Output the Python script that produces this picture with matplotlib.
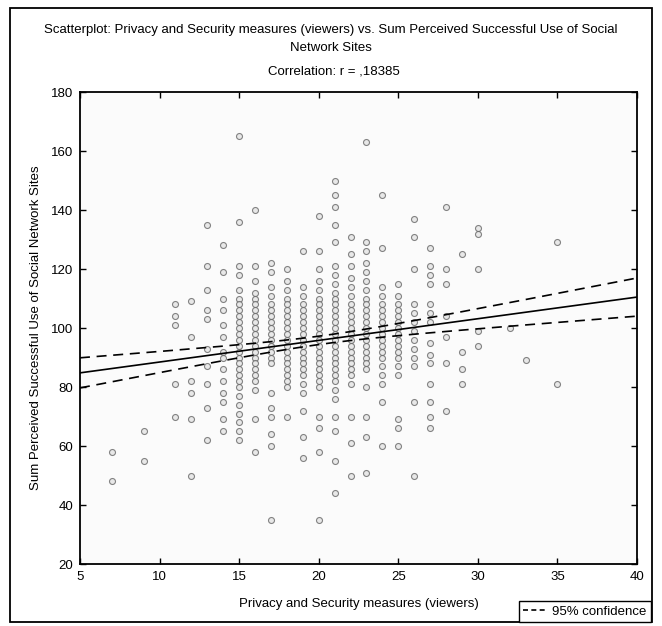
import numpy as np
import matplotlib
matplotlib.use("Agg")
import matplotlib.pyplot as plt
from matplotlib.lines import Line2D
from matplotlib.patches import Rectangle

plt.rcParams['font.family'] = ['Liberation Sans', 'DejaVu Sans']
plt.rcParams['font.size'] = 9.5

# Privacy/security score (x) and the SNS-use sums observed at each score
col_x = [7, 9, 11, 12, 13, 14, 15, 16, 17, 18, 19, 20, 21, 22, 23, 24, 25,
         26, 27, 28, 29, 30, 32, 33, 35]
col_y = [
    [58, 48],
    [65, 55],
    [108, 104, 101, 81, 70],
    [109, 97, 82, 78, 69, 50],
    [135, 121, 113, 106, 103, 93, 87, 81, 73, 62],
    [128, 119, 110, 106, 101, 97, 92, 90, 86, 82, 78, 75, 69, 65],
    [165, 136, 121, 118, 113, 110, 108, 106, 104, 102, 100, 98, 96, 94, 92,
     90, 88, 86, 84, 82, 80, 77, 74, 71, 68, 65, 62],
    [140, 121, 116, 112, 110, 108, 106, 104, 102, 100, 98, 96, 94, 92, 90,
     88, 86, 84, 82, 79, 69, 58],
    [122, 119, 114, 111, 108, 106, 104, 102, 100, 98, 96, 94, 92, 90, 88,
     78, 73, 70, 64, 60, 35],
    [120, 116, 113, 110, 108, 106, 104, 102, 100, 98, 96, 94, 92, 90, 88,
     86, 84, 82, 80, 70],
    [126, 114, 111, 108, 106, 104, 102, 100, 98, 96, 94, 92, 90, 88, 86, 84,
     81, 78, 72, 63, 56],
    [138, 126, 120, 116, 113, 110, 108, 106, 104, 102, 100, 98, 96, 94, 92,
     90, 88, 86, 84, 82, 80, 70, 66, 58, 35],
    [150, 145, 141, 135, 129, 121, 118, 115, 112, 110, 108, 106, 104, 102,
     100, 98, 96, 94, 92, 90, 88, 86, 84, 82, 79, 76, 70, 65, 55, 44],
    [131, 125, 121, 117, 114, 111, 108, 106, 104, 102, 100, 98, 96, 94, 92,
     90, 88, 86, 84, 81, 70, 61, 50],
    [163, 129, 126, 122, 119, 116, 113, 110, 108, 106, 104, 102, 100, 98, 96,
     94, 92, 90, 88, 86, 80, 70, 63, 51],
    [145, 127, 114, 111, 108, 106, 104, 102, 100, 98, 96, 94, 92, 90, 87, 84,
     81, 75, 60],
    [115, 111, 108, 106, 104, 102, 100, 98, 96, 94, 92, 90, 87, 84, 69, 66, 60],
    [137, 131, 120, 108, 105, 102, 99, 96, 93, 90, 87, 75, 50],
    [127, 121, 118, 115, 108, 105, 102, 95, 91, 88, 81, 75, 70, 66],
    [141, 120, 115, 104, 97, 88, 72],
    [125, 92, 86, 81],
    [134, 132, 120, 99, 94],
    [100],
    [89],
    [129, 81],
]

# regression fit and 95% band parameters
fit_intercept = 81.13
fit_slope = 0.734
n_obs = 400
x_mean = 20.3
x_sd = 4.42
resid_sd = 14.4
t_crit = 1.966

xs = np.concatenate([[x] * len(ys) for x, ys in zip(col_x, col_y)])
ys = np.concatenate(col_y)

fig = plt.figure(figsize=(6.62, 6.26), dpi=100)
ax = fig.add_axes([0.1208, 0.099, 0.8414, 0.754])
ax.set_facecolor('#fbfbfb')

ax.plot(xs, ys, 'o', ms=4.3, mfc='#e4e4e4', mec='#666666', mew=0.8, alpha=0.8)

xx = np.linspace(5, 40, 200)
yfit = fit_intercept + fit_slope * xx
sxx = n_obs * x_sd ** 2
half = t_crit * resid_sd * np.sqrt(1 / n_obs + (xx - x_mean) ** 2 / sxx)
ax.plot(xx, yfit, color='black', lw=1.2)
ax.plot(xx, yfit + half, color='black', lw=1.2, dashes=(6, 4))
ax.plot(xx, yfit - half, color='black', lw=1.2, dashes=(6, 4))

ax.set_xlim(5, 40)
ax.set_ylim(20, 180)
ax.set_xticks(np.arange(5, 41, 5))
ax.set_yticks(np.arange(20, 181, 20))
ax.tick_params(direction='in', length=4, width=1, top=True, right=True,
               labelsize=9.5, pad=5)
for s in ax.spines.values():
    s.set_linewidth(1.3)

ax.set_xlabel('Privacy and Security measures (viewers)', labelpad=11)
ax.set_ylabel('Sum Perceived Successful Use of Social Network Sites', labelpad=6)

fig.text(0.5, 1 - 30 / 626,
         'Scatterplot: Privacy and Security measures (viewers) vs. Sum Perceived '
         'Successful Use of Social', ha='center', va='center')
fig.text(0.5, 1 - 48 / 626, 'Network Sites', ha='center', va='center')
fig.text(0.505, 1 - 72 / 626, 'Correlation: r = ,18385', ha='center', va='center')

# outer frame around the whole chart
fig.patches.append(Rectangle((10 / 662, 4 / 626), 642 / 662, 614 / 626,
                             transform=fig.transFigure, fill=False,
                             edgecolor='black', lw=1.3))

handle = Line2D([], [], color='black', lw=1.2, dashes=(3, 2))
fig.legend([handle], ['95% confidence'], loc='lower right',
           bbox_to_anchor=(0.984, 0.006), borderaxespad=0, fancybox=False,
           edgecolor='black', framealpha=1, borderpad=0.35, handlelength=1.8,
           handletextpad=0.4, fontsize=9.5)

fig.savefig('out.png', dpi=100)
